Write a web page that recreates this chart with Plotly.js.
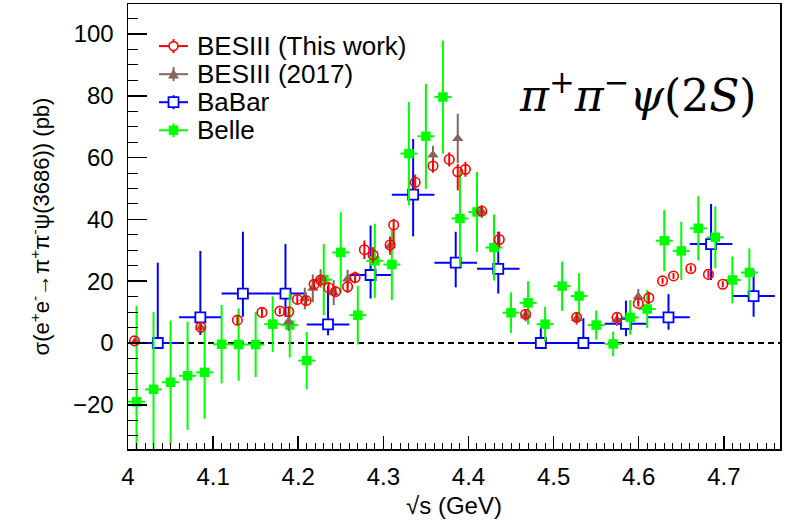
<!DOCTYPE html>
<html>
<head>
<meta charset="utf-8">
<script src="https://cdn.plot.ly/plotly-3.0.1.min.js"></script>
<style>html,body{margin:0;padding:0;background:#fff;}#chart{width:795px;height:524px;}</style>
</head>
<body>
<div id="chart"></div>
<script>
// ---- Data ----
// BESIII (This work)
const besX = [4.0076, 4.0855, 4.1285, 4.1574, 4.1784, 4.1888, 4.1989, 4.2092, 4.2187, 4.2263, 4.2357, 4.2438, 4.2580, 4.2668, 4.2777, 4.2879, 4.3079, 4.3121, 4.3374, 4.3583, 4.3774, 4.3874, 4.3964, 4.4156, 4.4362, 4.4671, 4.5271, 4.5745, 4.5995, 4.6119, 4.6280, 4.6409, 4.6612, 4.6819, 4.6988];
const besY = [0.7, 5.1, 7.4, 9.9, 10.3, 10.1, 14.1, 13.7, 19.0, 20.4, 17.9, 16.6, 18.2, 21.2, 30.2, 28.5, 31.7, 38.2, 52.0, 57.3, 59.4, 55.4, 56.2, 42.7, 33.5, 9.3, 8.3, 8.3, 12.8, 14.6, 20.1, 21.7, 24.1, 22.2, 19.0];
const besErrUp = [0.6, 1.2, 1.3, 1.4, 1.0, 1.5, 1.6, 1.6, 1.6, 1.0, 1.7, 1.8, 2.0, 1.9, 3.0, 2.5, 2.5, 2.0, 2.5, 2.2, 2.3, 2.5, 2.4, 1.5, 2.5, 1.5, 1.4, 1.2, 1.0, 2.0, 0.9, 1.0, 1.0, 1.1, 1.0];
const besErrDn = [0.6, 1.2, 1.3, 1.4, 1.0, 1.5, 1.6, 1.6, 1.6, 1.0, 1.7, 1.8, 2.0, 1.9, 3.0, 2.5, 2.5, 6.5, 2.5, 2.2, 2.3, 6.0, 2.4, 1.5, 2.5, 1.5, 1.4, 1.2, 1.0, 2.0, 0.9, 1.0, 1.0, 1.1, 1.0];

// BESIII (2017)
const bes17X = [4.0085, 4.0854, 4.1886, 4.2077, 4.2171, 4.2263, 4.2417, 4.2580, 4.3079, 4.3583, 4.3874, 4.4156, 4.4671, 4.5271, 4.5745, 4.5995];
const bes17Y = [0.5, 5.0, 6.9, 14.4, 17.7, 20.9, 16.3, 20.7, 31.5, 60.8, 66.2, 42.5, 9.0, 7.9, 7.5, 15.0];
const bes17Err = [0.8, 1.5, 3.0, 3.5, 4.5, 3.0, 4.0, 3.0, 3.0, 3.0, 8.0, 2.0, 2.0, 2.0, 2.0, 2.5];

// BaBar
const babarX = [4.035, 4.085, 4.135, 4.185, 4.235, 4.285, 4.335, 4.385, 4.435, 4.485, 4.535, 4.585, 4.635, 4.685, 4.735];
const babarY = [0, 8.3, 16, 16, 6, 22, 48, 26, 24, 0, 0, 6.2, 8.3, 32, 15.2];
const babarErrUp = [26, 21.5, 20, 16, 12.5, 16, 18, 10, 12, 5, 8, 7.5, 7.5, 13, 8.4];
const babarErrDn = [0, 5.7, 7.5, 7.5, 3.5, 7.6, 13.5, 8, 8, 0, 0, 4, 4, 11.6, 6.7];
const babarHalfBin = 0.025;

// Belle
const belleX = [4.01, 4.03, 4.05, 4.07, 4.09, 4.11, 4.13, 4.15, 4.17, 4.19, 4.21, 4.23, 4.25, 4.27, 4.29, 4.31, 4.33, 4.35, 4.37, 4.39, 4.41, 4.43, 4.45, 4.47, 4.49, 4.51, 4.53, 4.55, 4.57, 4.59, 4.61, 4.63, 4.65, 4.67, 4.69, 4.71, 4.73];
const belleY = [-19, -15, -12.7, -10.6, -9.5, -0.4, -0.5, -0.5, 6.1, 5.8, -5.7, 20.5, 29.3, 9.0, 26.6, 25.4, 61.3, 66.9, 79.6, 40.3, 42.4, 30.9, 9.8, 13.0, 6.1, 18.4, 15.2, 5.8, -0.3, 8.3, 11.0, 33.1, 29.8, 37.1, 34.2, 20.4, 22.8];
const belleErr = [31, 25, 20, 17.5, 15, 12.7, 11.7, 10.5, 9, 10.5, 9.3, 11.5, 13, 9.5, 12, 11.5, 16.7, 17, 18.3, 15.6, 13, 10.7, 6.6, 7, 5.6, 8, 7.4, 4.7, 4, 5.6, 6.2, 9.9, 9.4, 10.4, 10, 7.6, 7.8];
const belleHalfBin = 0.01;

// Labels
const seriesNames = ["BESIII (This work)", "BESIII (2017)", "BaBar", "Belle"];
const xTitle = "√s (GeV)";
const yTitle = "σ(e<sup>+</sup>e<sup>-</sup>→π<sup>+</sup>π<sup>-</sup>ψ(3686)) (pb)";
const procLabel = "<i>π</i><sup>+</sup><i>π</i><sup>−</sup><i>ψ</i>(2<i>S</i>)";

// ---- Styles ----
const cRed = "#ff0000", cBrown = "#87665a", cBlue = "#0000ff", cGreen = "#00ff00";
const FONT = "Liberation Sans, Arial, Helvetica, sans-serif";

const traces = [
  {
    name: seriesNames[2], x: babarX, y: babarY, type: "scatter", mode: "markers", showlegend: false,
    marker: {symbol: "square", size: 10, color: "#ffffff", line: {color: cBlue, width: 1.8}},
    error_y: {type: "data", symmetric: false, array: babarErrUp, arrayminus: babarErrDn, color: cBlue, thickness: 2, width: 0},
    error_x: {type: "constant", value: babarHalfBin, color: cBlue, thickness: 2, width: 0}
  },
  {
    name: seriesNames[3], x: belleX, y: belleY, type: "scatter", mode: "markers", showlegend: false,
    marker: {symbol: "square", size: 9.5, color: cGreen, line: {width: 0}},
    error_y: {type: "data", array: belleErr, color: cGreen, thickness: 2, width: 0},
    error_x: {type: "constant", value: belleHalfBin, color: cGreen, thickness: 2, width: 0}
  },
  {
    name: seriesNames[1], x: bes17X, y: bes17Y, type: "scatter", mode: "markers", showlegend: false,
    marker: {symbol: "triangle-up", size: 10, color: cBrown, line: {width: 0}},
    error_y: {type: "data", array: bes17Err, color: cBrown, thickness: 2, width: 0}
  },
  {
    name: seriesNames[0], x: besX, y: besY, type: "scatter", mode: "markers", showlegend: false,
    marker: {symbol: "circle-open", size: 9.5, color: cRed, line: {color: cRed, width: 1.6}},
    error_y: {type: "data", symmetric: false, array: besErrUp, arrayminus: besErrDn, color: cRed, thickness: 2, width: 0}
  }
];

// ---- Legend (drawn manually, ROOT style) ----
const legX = 0.0698, legTextX = 0.1028;
const legRows = [0.9054, 0.8423, 0.7793, 0.7162];
const legColors = [cRed, cBrown, cBlue, cGreen];
const shapes = [
  {type: "line", xref: "paper", x0: 0, x1: 1, yref: "y", y0: 0, y1: 0,
   line: {color: "#000", width: 2, dash: "6px,4px"}, layer: "below"}
];
const annotations = [];
legRows.forEach((yy, i) => {
  const c = legColors[i];
  shapes.push({type: "line", xref: "paper", yref: "paper", xsizemode: "pixel", ysizemode: "pixel",
    xanchor: legX, yanchor: yy, x0: -14.5, x1: 14.5, y0: 0, y1: 0, line: {color: c, width: 2}});
  shapes.push({type: "line", xref: "paper", yref: "paper", xsizemode: "pixel", ysizemode: "pixel",
    xanchor: legX, yanchor: yy, x0: 0, x1: 0, y0: -7, y1: 7, line: {color: c, width: 2}});
  let m;
  if (i === 0) m = {type: "circle", x0: -4.5, x1: 4.5, y0: -4.5, y1: 4.5, fillcolor: "#fff", line: {color: c, width: 1.6}};
  else if (i === 1) m = {type: "path", path: "M -5 -4 L 5 -4 L 0 5 Z", fillcolor: c, line: {color: c, width: 0.5}};
  else if (i === 2) m = {type: "rect", x0: -5, x1: 5, y0: -5, y1: 5, fillcolor: "#fff", line: {color: c, width: 1.8}};
  else m = {type: "rect", x0: -4.5, x1: 4.5, y0: -4.5, y1: 4.5, fillcolor: c, line: {color: c, width: 0.5}};
  Object.assign(m, {xref: "paper", yref: "paper", xsizemode: "pixel", ysizemode: "pixel", xanchor: legX, yanchor: yy});
  shapes.push(m);
  annotations.push({xref: "paper", yref: "paper", x: legTextX, y: yy, xanchor: "left", yanchor: "middle",
    text: seriesNames[i], showarrow: false, font: {family: FONT, size: 26, color: "#000"}});
});
annotations.push({xref: "paper", yref: "paper", x: 0.781, y: 0.80, xanchor: "center", yanchor: "middle",
  text: procLabel, showarrow: false, font: {family: "DejaVu Serif, serif", size: 44, color: "#000"}});

const layout = {
  width: 795, height: 524,
  margin: {l: 128, r: 15, t: 4, b: 75},
  paper_bgcolor: "#fff", plot_bgcolor: "#fff",
  showlegend: false,
  font: {family: FONT, color: "#000"},
  xaxis: {
    range: [4.0, 4.766], tick0: 4.0, dtick: 0.1, ticks: "inside", ticklen: 13, tickwidth: 1.5, tickcolor: "#000",
    showline: true, linecolor: "#000", linewidth: 1.5, mirror: true, showgrid: false, zeroline: false,
    tickfont: {family: FONT, size: 24}, ticklabelstandoff: 6,
    minor: {dtick: 0.01, ticks: "inside", ticklen: 6.5, tickwidth: 1, tickcolor: "#000", showgrid: false},
    title: {text: xTitle, font: {family: FONT, size: 24}, standoff: 8}
  },
  yaxis: {
    range: [-34.3, 109.7], tick0: 0, dtick: 20, ticks: "inside", ticklen: 19, tickwidth: 1.5, tickcolor: "#000",
    showline: true, linecolor: "#000", linewidth: 1.5, mirror: true, showgrid: false, zeroline: false,
    tickfont: {family: FONT, size: 24}, ticklabelstandoff: 8,
    minor: {dtick: 5, ticks: "inside", ticklen: 9.5, tickwidth: 1, tickcolor: "#000", showgrid: false},
    title: {text: yTitle, font: {family: FONT, size: 22}, standoff: 17}
  },
  shapes: shapes,
  annotations: annotations
};

Plotly.newPlot("chart", traces, layout, {staticPlot: true, displayModeBar: false});
</script>
</body>
</html>
